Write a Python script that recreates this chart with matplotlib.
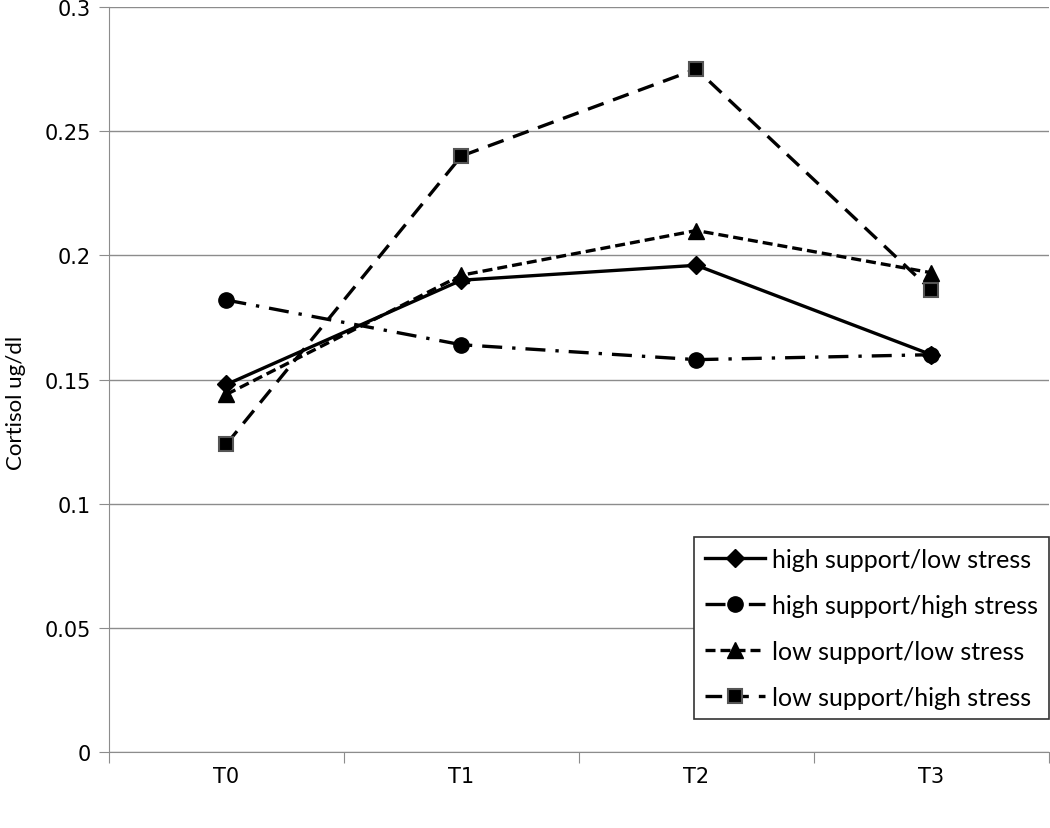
import matplotlib
matplotlib.use("Agg")
import matplotlib.pyplot as plt
import numpy as np

plt.rcParams["font.family"] = ["Lato", "DejaVu Sans"]

categories = ["T0", "T1", "T2", "T3"]
y_ticks = [0, 0.05, 0.1, 0.15, 0.2, 0.25, 0.3]
y_tick_labels = ["0", "0.05", "0.1", "0.15", "0.2", "0.25", "0.3"]

hs_ls = [0.148, 0.190, 0.196, 0.160]   # high support/low stress
hs_hs = [0.182, 0.164, 0.158, 0.160]   # high support/high stress
ls_ls = [0.144, 0.192, 0.210, 0.193]   # low support/low stress
ls_hs = [0.124, 0.240, 0.275, 0.186]   # low support/high stress

fig = plt.figure(figsize=(10.5, 8.29), dpi=100)
ax = fig.add_axes([0.1038, 0.0917, 0.895, 0.8986])

x = np.arange(len(categories))
lw = 2.4
ax.plot(x, hs_ls, color="black", lw=lw, ls="-", marker="D", ms=9,
        label="high support/low stress", zorder=3)
ax.plot(x, hs_hs, color="black", lw=lw, ls=(0, (6, 3, 1, 3)), marker="o", ms=11,
        label="high support/high stress", zorder=3)
ax.plot(x, ls_ls, color="black", lw=lw, ls=(0, (3, 1.5)), marker="^", ms=12,
        label="low support/low stress", zorder=3)
ax.plot(x, ls_hs, color="black", lw=lw, ls=(0, (5, 3)), marker="s", ms=10,
        mec="#555555", mew=1.5, label="low support/high stress", zorder=3)

ax.set_xlim(-0.5, 3.5)
ax.set_ylim(0, 0.3)
ax.set_yticks(y_ticks)
ax.set_yticklabels(y_tick_labels, fontsize=15, family="DejaVu Sans")
ax.yaxis.grid(True, color="#8c8c8c", lw=1)
ax.set_axisbelow(True)

ax.set_xticks(np.arange(-0.5, 4.0, 1.0))
ax.set_xticklabels([])
ax.set_xticks(x, minor=True)
ax.set_xticklabels(categories, minor=True, fontsize=15, family="DejaVu Sans")
ax.tick_params(axis="x", which="major", length=8, color="#8c8c8c", direction="out")
ax.tick_params(axis="x", which="minor", length=0, pad=10)
ax.tick_params(axis="y", length=7, color="#8c8c8c", direction="out", pad=6)

for side in ["top", "right"]:
    ax.spines[side].set_visible(False)
for side in ["left", "bottom"]:
    ax.spines[side].set_color("#8c8c8c")

ax.set_ylabel("Cortisol ug/dl", fontsize=16)
ax.yaxis.set_label_coords(-0.088, 0.47)

leg = ax.legend(loc="lower right", bbox_to_anchor=(1.0, 0.044), borderaxespad=0,
                fontsize=18, frameon=True, fancybox=False, framealpha=1,
                edgecolor="#333333", handlelength=2.4, labelspacing=0.92,
                borderpad=0.42, handletextpad=0.3)
leg.get_frame().set_linewidth(1.2)

fig.savefig("out.png", dpi=100)
